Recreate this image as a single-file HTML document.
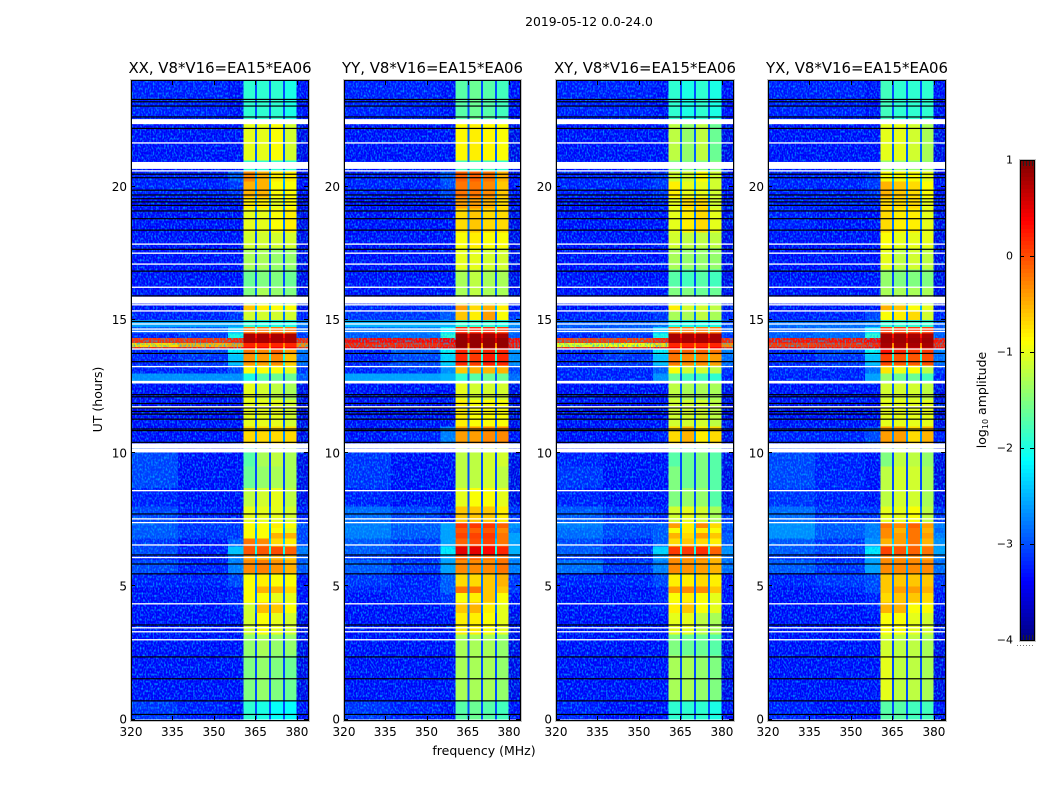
<!DOCTYPE html>
<html>
<head>
<meta charset="utf-8">
<title>2019-05-12 spectrogram</title>
<style>
html,body{margin:0;padding:0;background:#fff;}
svg{display:block;}
text{font-family:"DejaVu Sans","Liberation Sans",sans-serif;fill:#000;}
</style>
</head>
<body>
<svg id="chart" xmlns="http://www.w3.org/2000/svg" width="1050" height="800" viewBox="0 0 1050 800">
<defs>
<filter id="speckle" x="0" y="0" width="100%" height="100%" color-interpolation-filters="sRGB">
<feTurbulence type="fractalNoise" baseFrequency="0.62 0.42" numOctaves="1" seed="3"/>
<feColorMatrix type="matrix" values="0 0 0 0 0  0 0 0 0 0.72  0 0 0 0 1  2.2 0 0 0 -0.95"/>
</filter>
</defs>
<rect width="1050" height="800" fill="#fff"/>
<text x="589" y="26" font-size="12.4" text-anchor="middle">2019-05-12 0.0-24.0</text>
<text x="484" y="755" font-size="12.5" text-anchor="middle">frequency (MHz)</text>
<text transform="translate(102,399.5) rotate(-90)" font-size="12.5" text-anchor="middle">UT (hours)</text>
<text transform="translate(986,400) rotate(-90)" font-size="12.5" text-anchor="middle">log<tspan font-size="8" dy="2">10</tspan><tspan dy="-2"> amplitude</tspan></text>
<g id="panels"></g>
<g id="colorbar"></g>
</svg>
<script>
// Time-bin edges (hours) shared by all panels
const hourEdges = [0,.7,2.4,3.2,4,4.4,4.75,5,5.5,6,6.2,6.5,6.8,7,7.2,7.4,8,8.7,9.5,10.3,11,12,12.7,13,13.3,13.7,13.9,14,14.15,14.33,14.5,14.75,15,15.35,15.6,16.2,16.9,17.7,18.3,19.2,19.6,20.2,20.6,21,22.4,24];
// Frequency bins (MHz) and which row value fills each: 0-2 background, 3-6 sub-bands, 7 right background, g notches
const freqEdges = [320,337,355,360.6,364.85,365.55,369.9,370.6,374.95,375.65,379.9,384];
const freqSource = [0,1,2,3,'g',4,'g',5,'g',6,7];
// Log10 amplitude in the notches between sub-bands, per time bin
const gapLevels = [-3,-3,-3,-3,-2.8,-2.8,-2.8,-2.8,-2.6,-2.4,-2,-2.4,-2.6,-2.6,-2.5,-2.8,-3,-3,-3,-2.7,-2.9,-2.9,-2.9,-2.6,-2,-1.8,-.5,-.3,.6,.3,-1.5,-2.5,-2.8,-2.5,-2.9,-3,-3,-3,-2.8,-2.7,-2.6,-2.5,-2.9,-2.9,-3];
// Each row: [left bg, mid bg, edge bg, band1, band2, band3, band4, right bg]
const xxRows = [
[-3.2,-3.3,-3.4,-1.9,-2,-2.1,-2.1,-3.4],
[-3.4,-3.4,-3.4,-1.5,-1.4,-1.5,-1.6,-3.5],
[-3.4,-3.4,-3.4,-1.4,-1.3,-1.4,-1.4,-3.5],
[-3.4,-3.4,-3.4,-1.1,-.9,-1,-1.1,-3.5],
[-3.4,-3.4,-3.3,-1.1,-.55,-.6,-.9,-3.4],
[-3.4,-3.4,-3.3,-.9,-.9,-1,-1,-3.4],
[-3.4,-3.4,-3.3,-.9,-.5,-.5,-.7,-3.4],
[-3.3,-3.3,-3.1,-.9,-.8,-.9,-.9,-3.4],
[-3.1,-3.3,-2.8,-.3,-.25,-.35,-.5,-3],
[-3.3,-3.4,-2.8,-.4,-.5,-.5,-.6,-3],
[-3.1,-3.3,-2.4,-.05,-.05,0,-.1,-2.8],
[-3.2,-3.4,-3,-.2,-.3,-.7,-.8,-3.1],
[-3,-3.2,-3.2,-.9,-.9,-.5,-.5,-3.1],
[-3,-3.2,-3.2,-.9,-.9,-.9,-1,-3.1],
[-3,-3.2,-3.2,-.9,-.9,-.8,-.9,-3.1],
[-3.1,-3.3,-3.4,-1,-1,-1,-1.1,-3.3],
[-3.3,-3.4,-3.4,-1.2,-1.1,-1,-1.2,-3.5],
[-3.1,-3.4,-3.4,-1.6,-1.4,-1.3,-1.3,-3.5],
[-3.1,-3.4,-3.4,-1.7,-1.3,-1.2,-1.3,-3.5],
[-3.4,-3.4,-3.4,-.7,-.7,-.7,-.7,-3.5],
[-3.4,-3.4,-3.4,-1,-1,-1,-1.1,-3.5],
[-3.4,-3.4,-3.4,-1,-1.1,-1.2,-1.3,-3.5],
[-2.7,-2.7,-2.7,-2,-1.7,-1.6,-1.6,-3],
[-3.3,-3.3,-3.1,-.9,-.9,-.9,-1,-3.2],
[-3.3,-3.2,-2.4,-.35,-.4,-.3,-.6,-2.9],
[-3.3,-3.1,-2.1,-.2,-.3,-.1,-.4,-2.8],
[.2,.25,.3,.4,.4,.4,.4,.2],
[-.7,-.5,-.4,.2,.2,.2,.2,-.3],
[.15,.15,.2,.8,.8,.8,.8,.2],
[-3.3,-3.2,-2,.8,.8,.8,.8,-3.2],
[-3,-3,-2.4,-.2,-.2,-.2,-.2,-3],
[-2.6,-2.6,-2.6,-1.9,-2,-2,-2,-2.8],
[-3.3,-3.3,-3.2,-1.1,-1.1,-1.1,-1.1,-3.3],
[-3.4,-3.4,-3.4,-.6,-.8,-.9,-.9,-3.5],
[-3.4,-3.4,-3.4,-1.5,-1.3,-1.4,-1.5,-3.5],
[-3.4,-3.4,-3.4,-1.6,-1.5,-1.5,-1.6,-3.5],
[-3.4,-3.4,-3.4,-1.3,-1.3,-1.4,-1.4,-3.5],
[-3.4,-3.4,-3.4,-1.1,-1.1,-1.1,-1.1,-3.5],
[-3.4,-3.4,-3.4,-1,-1,-.9,-.8,-3.5],
[-3.4,-3.4,-3.4,-.8,-.8,-1,-.9,-3.5],
[-3.3,-3.3,-3.2,-.5,-.5,-.9,-.9,-3.4],
[-3.3,-3.3,-3,-.3,-.5,-.8,-.8,-3.4],
[-3.4,-3.4,-3.4,-1.9,-1.9,-1.9,-1.9,-3.5],
[-3.4,-3.4,-3.4,-1,-1,-.9,-1.1,-3.5],
[-3.3,-3.3,-3.4,-1.9,-1.9,-1.9,-2,-3.4]
];
const yyRows = [
[-3.2,-3.3,-3.4,-1.7,-1.6,-1.7,-1.8,-3.4],
[-3.4,-3.4,-3.4,-1.3,-1.3,-1.3,-1.4,-3.5],
[-3.4,-3.4,-3.4,-1.3,-1.3,-1.3,-1.4,-3.5],
[-3.4,-3.4,-3.4,-.8,-.8,-.9,-1,-3.5],
[-3.4,-3.4,-3.3,-.6,-.5,-.8,-1,-3.4],
[-3.4,-3.3,-3.2,-.9,-.8,-.6,-.9,-3.4],
[-3.3,-3.3,-3,-.2,-.2,-.6,-.6,-3.2],
[-3.2,-3.3,-3,-.7,-.7,-.6,-.5,-3.2],
[-3,-3.2,-2.6,-.3,-.3,-.3,-.2,-2.8],
[-3.2,-3.3,-2.6,-.1,-.1,-.2,-.2,-2.7],
[-3,-3.1,-2.2,.5,.5,.35,.2,-2.5],
[-3,-3.2,-2.6,-.1,0,.05,-.2,-2.6],
[-2.8,-3,-2.6,.05,.05,.1,-.2,-2.6],
[-2.8,-3,-2.6,-.05,-.1,-.05,-.3,-2.8],
[-2.8,-3,-2.6,.1,.1,.1,-.1,-2.7],
[-2.9,-3.1,-3.3,-.6,-.6,-.6,-.8,-3.2],
[-3.3,-3.4,-3.4,-1,-.9,-.9,-1,-3.5],
[-3.2,-3.4,-3.4,-1.2,-1.2,-1.1,-1.2,-3.5],
[-3.2,-3.4,-3.4,-1.2,-1.2,-1.1,-1.1,-3.5],
[-3.4,-3.3,-2.8,-.4,-.4,-.3,-.3,-3.4],
[-3.4,-3.4,-3.4,-.8,-.9,-.9,-.9,-3.5],
[-3.4,-3.4,-3.4,-1,-1.1,-1.1,-1.1,-3.5],
[-2.6,-2.6,-2.5,-1.9,-1.7,-1.6,-1.6,-2.9],
[-3.3,-3.2,-2.7,-.6,-.5,-.5,-.5,-3.1],
[-3.3,-3.1,-2.3,.2,.1,.25,.2,-2.7],
[-3.3,-3,-2.1,.2,.1,.2,.2,-2.7],
[.4,.4,.45,.8,.8,.8,.8,.4],
[.2,.2,.25,.9,.9,.9,.9,.25],
[.35,.35,.4,.9,.9,.9,.9,.35],
[-3,-2.9,-1.9,.9,.9,.85,.8,-3],
[-2.9,-2.8,-2.2,.2,.2,.2,.1,-2.9],
[-2.5,-2.5,-2.5,-1.9,-1.9,-1.9,-2,-2.7],
[-3.2,-3.2,-3,-.6,-.8,-.4,-.9,-3.2],
[-3.3,-3.3,-3.2,-.4,-.7,-.5,-.8,-3.4],
[-3.4,-3.4,-3.4,-1.3,-1.2,-1.3,-1.3,-3.5],
[-3.4,-3.4,-3.4,-1.3,-1.2,-1.3,-1.3,-3.5],
[-3.4,-3.4,-3.4,-1,-1,-1.1,-1.1,-3.5],
[-3.4,-3.4,-3.4,-.9,-.8,-.9,-.9,-3.5],
[-3.4,-3.4,-3.4,-.7,-.6,-.7,-.7,-3.5],
[-3.4,-3.4,-3.3,-.4,-.4,-.5,-.7,-3.4],
[-3.3,-3.3,-3.1,-.2,-.2,-.3,-.6,-3.4],
[-3.3,-3.3,-3,-.1,-.1,-.2,-.5,-3.4],
[-3.4,-3.4,-3.4,-1.8,-1.8,-1.8,-1.9,-3.5],
[-3.4,-3.4,-3.4,-.85,-.8,-.85,-.9,-3.5],
[-3.3,-3.3,-3.4,-1.7,-1.6,-1.7,-1.8,-3.4]
];
const xyRows = [
[-3.3,-3.4,-3.4,-1.9,-1.9,-1.9,-2,-3.4],
[-3.4,-3.4,-3.4,-1.3,-1.3,-1.4,-1.5,-3.5],
[-3.4,-3.4,-3.4,-1.5,-1.6,-1.6,-1.7,-3.5],
[-3.4,-3.4,-3.4,-1,-1,-1.2,-1.3,-3.5],
[-3.4,-3.4,-3.3,-.8,-.6,-.9,-1,-3.4],
[-3.4,-3.4,-3.3,-.9,-.8,-.9,-1,-3.4],
[-3.4,-3.4,-3.3,-.4,-.3,-.3,-.6,-3.4],
[-3.3,-3.3,-3.1,-.8,-.8,-.7,-.8,-3.4],
[-2.9,-3.2,-2.8,-.3,-.35,-.4,-.5,-2.9],
[-3.2,-3.3,-2.7,-.3,-.3,-.3,-.5,-2.9],
[-3,-3.2,-2.3,.1,.1,.15,-.1,-2.7],
[-3.1,-3.3,-3,-.7,-.6,-.7,-.8,-3],
[-2.9,-3.1,-3,-.5,-.7,-.4,-.6,-3],
[-2.9,-3.1,-3,-.9,-.8,-.8,-.9,-3.1],
[-2.8,-3.1,-3,-.4,-.8,-.3,-.7,-3],
[-3,-3.2,-3.3,-1.1,-1,-1.1,-1.3,-3.2],
[-3.3,-3.4,-3.4,-1.5,-1.4,-1.4,-1.7,-3.5],
[-3.2,-3.4,-3.4,-1.5,-1.6,-1.5,-1.7,-3.5],
[-3.3,-3.4,-3.4,-1.7,-1.6,-1.5,-1.7,-3.5],
[-3.4,-3.4,-3.3,-.7,-.5,-.8,-.7,-3.5],
[-3.4,-3.4,-3.4,-1.1,-1.1,-1.1,-1.2,-3.5],
[-3.4,-3.4,-3.4,-1.2,-1.3,-1.3,-1.3,-3.5],
[-3.3,-3.3,-2.7,-1.6,-1.8,-1.8,-1.9,-3.3],
[-3.3,-3.3,-3,-.9,-1.1,-1.1,-1.2,-3.2],
[-3.3,-3.2,-2.4,-.2,-.3,-.3,-.4,-2.9],
[-3.3,-3.1,-2.1,-.1,-.1,-.1,-.2,-2.8],
[.2,.2,.3,.4,.4,.4,.4,.2],
[-1,-.9,-.7,.2,.2,.2,.2,-.3],
[.1,.1,.2,.8,.8,.8,.8,.2],
[-3.3,-3.2,-2,.8,.8,.8,.8,-3.2],
[-3.1,-3,-2.4,-.2,-.2,-.2,-.2,-3],
[-3,-3,-2.9,-2,-2,-2,-2,-3.1],
[-3.3,-3.3,-3.2,-1.3,-1.3,-1.2,-1.3,-3.3],
[-3.4,-3.4,-3.4,-.8,-1.1,-1.1,-1.2,-3.5],
[-3.4,-3.4,-3.4,-1.5,-1.5,-1.6,-1.6,-3.5],
[-3.4,-3.4,-3.4,-1.7,-1.8,-1.7,-1.8,-3.5],
[-3.4,-3.4,-3.4,-1.3,-1.4,-1.4,-1.4,-3.5],
[-3.4,-3.4,-3.4,-1.1,-1.2,-1.2,-1.2,-3.5],
[-3.4,-3.4,-3.4,-1,-.8,-.7,-1,-3.5],
[-3.4,-3.4,-3.3,-1,-.7,-.7,-1.1,-3.5],
[-3.3,-3.3,-3.2,-.8,-1,-1,-1.1,-3.4],
[-3.3,-3.3,-3.2,-1.1,-1.1,-.9,-1.1,-3.4],
[-3.4,-3.4,-3.4,-1.5,-1.5,-1.5,-1.5,-3.5],
[-3.4,-3.4,-3.4,-1.2,-1.4,-1.2,-1.6,-3.5],
[-3.3,-3.3,-3.4,-1.9,-2,-1.9,-2,-3.4]
];
const yxRows = [
[-3.3,-3.4,-3.4,-1.7,-1.7,-1.8,-1.8,-3.4],
[-3.4,-3.4,-3.4,-1,-1.2,-1.2,-1.3,-3.5],
[-3.4,-3.4,-3.4,-1.1,-1.2,-1.2,-1.3,-3.5],
[-3.4,-3.4,-3.4,-.9,-.9,-1,-1.1,-3.5],
[-3.4,-3.4,-3.3,-.5,-.5,-.9,-.9,-3.4],
[-3.4,-3.4,-3.3,-.7,-.6,-.6,-.7,-3.4],
[-3.4,-3.3,-3.1,-.6,-.4,-.4,-.5,-3.3],
[-3.3,-3.2,-3.1,-.6,-.6,-.6,-.6,-3.2],
[-3,-3.2,-2.6,-.3,-.3,-.3,-.3,-2.9],
[-3.2,-3.3,-2.6,-.3,-.3,-.3,-.4,-2.8],
[-3,-3.1,-2.2,.05,-.05,-.1,-.2,-2.6],
[-3,-3.2,-2.7,-.5,-.4,-.2,-.5,-2.7],
[-2.7,-3,-2.8,-.3,-.4,-.2,-.4,-2.8],
[-2.7,-3,-2.8,-.3,-.5,-.2,-.5,-2.9],
[-2.7,-3,-2.8,-.2,-.3,-.1,-.4,-2.8],
[-2.9,-3.2,-3.2,-1,-1,-.9,-1.2,-3.2],
[-3.2,-3.3,-3.4,-1.2,-1.1,-1.1,-1.3,-3.5],
[-3.1,-3.3,-3.4,-1.2,-1.1,-1.1,-1.3,-3.5],
[-3.1,-3.3,-3.4,-1.5,-1.2,-1.2,-1.4,-3.5],
[-3.3,-3.3,-3.1,-.4,-.4,-.7,-.5,-3.3],
[-3.4,-3.4,-3.4,-1,-1,-1,-1,-3.5],
[-3.4,-3.4,-3.4,-1.1,-1.1,-1.1,-1.2,-3.5],
[-3.3,-3.3,-2.6,-1.4,-1.6,-1.6,-1.8,-3.3],
[-3.3,-3.3,-2.9,-.75,-.95,-.9,-1.2,-3.2],
[-3.3,-3.2,-2.4,.05,-.05,-.05,0,-2.9],
[-3.3,-3.1,-2.1,.3,.2,.1,.1,-2.8],
[.35,.35,.4,.7,.7,.7,.7,.35],
[.1,.15,.2,.8,.8,.8,.8,.2],
[.3,.3,.35,.85,.85,.85,.85,.3],
[-3,-2.9,-1.9,.85,.85,.8,.8,-3],
[-3,-2.9,-2.3,.1,.1,.1,.1,-3],
[-2.9,-2.9,-2.8,-1.9,-1.9,-1.9,-1.9,-3],
[-3.3,-3.3,-3.1,-.9,-.8,-.7,-1.1,-3.3],
[-3.4,-3.4,-3.4,-.5,-.6,-.9,-1,-3.5],
[-3.4,-3.4,-3.4,-1.3,-1.3,-1.3,-1.3,-3.5],
[-3.4,-3.4,-3.4,-1.4,-1.5,-1.5,-1.5,-3.5],
[-3.4,-3.4,-3.4,-1,-1.2,-1.1,-1.2,-3.5],
[-3.4,-3.4,-3.4,-.9,-1,-1,-1,-3.5],
[-3.3,-3.4,-3.4,-.7,-.8,-.8,-1,-3.5],
[-3.3,-3.3,-3.3,-.7,-.7,-.7,-1,-3.4],
[-3.3,-3.3,-3.2,-.5,-.6,-.7,-.9,-3.4],
[-3.3,-3.3,-3.2,-.9,-.9,-.9,-1,-3.4],
[-3.4,-3.4,-3.4,-1.4,-1.4,-1.4,-1.4,-3.5],
[-3.4,-3.4,-3.4,-1,-1,-1.1,-1.3,-3.5],
[-3.3,-3.3,-3.4,-1.8,-1.9,-1.9,-1.9,-3.4]
];
// Panel titles
const panelTitles = ["XX, V8*V16=EA15*EA06","YY, V8*V16=EA15*EA06","XY, V8*V16=EA15*EA06","YX, V8*V16=EA15*EA06"];
const panelMatrices = [xxRows,yyRows,xyRows,yxRows];
// Flagged time ranges (hours) rendered white
const whiteRanges = [[22.36,22.55],[21.63,21.68],[20.68,20.94],[20.58,20.63],[17.83,17.88],[17.49,17.54],[17.08,17.13],[16.21,16.26],[15.62,15.88],[15.55,15.6],[15.32,15.37],[14.83,14.88],[14.64,14.69],[14.55,14.6],[13.89,13.94],[13.23,13.28],[12.62,12.72],[11.72,11.77],[10.19,10.37],[10.03,10.18],[8.57,8.62],[7.51,7.56],[7.37,7.42],[6.53,6.58],[6.06,6.11],[4.32,4.37],[3.42,3.47],[3.27,3.32],[2.97,3.02]];
// Times (hours) of dark dropout lines
const darkLines = [23.29,23.2,23.04,22.63,22.2,20.85,20.48,20.35,19.88,19.7,19.56,19.44,19.31,19.1,18.81,18.38,17.66,16.84,15.91,14.95,13.75,13.44,12.2,12.12,11.87,11.7,11.57,11.47,11.28,10.91,10.85,10.41,7.72,6.18,5.84,5.47,3.55,2.35,1.53,.7,.19];
// Tick labels
const freqTicks = [320,335,350,365,380];
const hourTicks = [0,5,10,15,20];
const colorbarTicks = [-4,-3,-2,-1,0,1];

const SVGNS = "http://www.w3.org/2000/svg";
const panelLefts = [131,344,556,768];
const panelWidths = [177,176,177,177];
const plotTop = 80.5, plotBottom = 719.5;
const freqMin = 320, freqMax = 384, hourMin = 0, hourMax = 24;
const levelMin = -4, levelMax = 1;

function xScale(p, f){ return panelLefts[p] + (f - freqMin) / (freqMax - freqMin) * panelWidths[p]; }
function yScale(h){ return plotBottom - (h - hourMin) / (hourMax - hourMin) * (plotBottom - plotTop); }
function jet(v){
  const t = Math.max(0, Math.min(1, (v - levelMin) / (levelMax - levelMin)));
  const ramp = function(x){ return Math.max(0, Math.min(1, 1.5 - Math.abs(4 * x - 2))); };
  const r = ramp(t - .25), g = ramp(t), b = ramp(t + .25);
  return "rgb(" + Math.round(r*255) + "," + Math.round(g*255) + "," + Math.round(b*255) + ")";
}
function make(tag, attrs, parent){
  const el = document.createElementNS(SVGNS, tag);
  for (const k in attrs) el.setAttribute(k, attrs[k]);
  parent.appendChild(el);
  return el;
}

const panelsGroup = document.getElementById("panels");
panelMatrices.forEach(function(rows, p){
  const left = panelLefts[p], width = panelWidths[p];
  const g = make("g", {}, panelsGroup);
  
  

  rows.forEach(function(row, r){
    const y0 = yScale(hourEdges[r + 1]), y1 = yScale(hourEdges[r]);
    freqSource.forEach(function(src, c){
      const x0 = xScale(p, freqEdges[c]), x1 = xScale(p, freqEdges[c + 1]);
      const v = src === 'g' ? gapLevels[r] : row[src];
      const cell = make("rect", {x:x0, y:y0, width:x1 - x0, height:y1 - y0, fill:jet(v), "shape-rendering":"crispEdges"}, g);
      
      
    });
  });

  // Decorative channel-noise texture over the off-band background
  const noiseA = make("rect", {x:xScale(p,freqMin), y:plotTop, width:xScale(p,freqEdges[3]) - xScale(p,freqMin), height:plotBottom - plotTop, filter:"url(#speckle)"}, g);
  
  
  const noiseB = make("rect", {x:xScale(p,freqEdges[10]), y:plotTop, width:xScale(p,freqMax) - xScale(p,freqEdges[10]), height:plotBottom - plotTop, filter:"url(#speckle)"}, g);
  
  

  darkLines.forEach(function(h){
    const line = make("rect", {x:left, y:yScale(h) - .6, width:width, height:1.2, fill:"#000"}, g);
    
    
  });
  whiteRanges.forEach(function(rg){
    const band = make("rect", {x:left, y:yScale(rg[1]), width:width, height:yScale(rg[0]) - yScale(rg[1]), fill:"#fff"}, g);
    
    
  });

  const halo = make("rect", {x:left - .5, y:79.5, width:width + 2, height:642, fill:"none", stroke:"#c4c4c4", "stroke-width":1}, g);
  
  
  const frame = make("rect", {x:left + .5, y:80.5, width:width, height:640, fill:"none", stroke:"#000", "stroke-width":1}, g);
  
  

  freqTicks.forEach(function(f){
    const x = Math.round(xScale(p, f)) + .5;
    const t1 = make("line", {x1:x, x2:x, y1:720, y2:716, stroke:"#000"}, g);
    
    
    const t2 = make("line", {x1:x, x2:x, y1:81, y2:85, stroke:"#000"}, g);
    
    
    const label = make("text", {x:xScale(p, f), y:736, "font-size":12, "text-anchor":"middle"}, g);
    
    
    label.textContent = f;
  });
  hourTicks.forEach(function(h){
    const y = Math.round(yScale(h)) - .5;
    const t1 = make("line", {x1:left, x2:left + 4, y1:y, y2:y, stroke:"#000"}, g);
    
    
    const t2 = make("line", {x1:left + width, x2:left + width - 4, y1:y, y2:y, stroke:"#000"}, g);
    
    
    const label = make("text", {x:left - 4, y:yScale(h) + 4, "font-size":12, "text-anchor":"end"}, g);
    
    
    label.textContent = h;
  });
  const title = make("text", {x:left + width / 2 + .5, y:73, "font-size":14.9, "text-anchor":"middle"}, g);
  
  
  title.textContent = panelTitles[p];
});

// Colorbar
const cbGroup = document.getElementById("colorbar");
const cbLeft = 1020, cbRight = 1034, cbTop = 160.5, cbBottom = 640.5;
function cbScale(v){ return cbBottom - (v - levelMin) / (levelMax - levelMin) * (cbBottom - cbTop); }
for (let i = 0; i < 120; i++){
  const v0 = levelMin + i * (levelMax - levelMin) / 120;
  const v1 = levelMin + (i + 1) * (levelMax - levelMin) / 120;
  const seg = make("rect", {x:cbLeft, y:cbScale(v1), width:cbRight - cbLeft, height:cbScale(v0) - cbScale(v1) + .5, fill:jet((v0 + v1) / 2), "shape-rendering":"crispEdges"}, cbGroup);
  
  
}
const cbHalo = make("rect", {x:cbLeft - .5, y:cbTop - 1, width:cbRight - cbLeft + 2, height:cbBottom - cbTop + 2, fill:"none", stroke:"#c4c4c4", "stroke-width":1}, cbGroup);


const cbFrame = make("rect", {x:cbLeft + .5, y:cbTop, width:cbRight - cbLeft, height:cbBottom - cbTop, fill:"none", stroke:"#000", "stroke-width":1}, cbGroup);


colorbarTicks.forEach(function(v){
  const y = Math.round(cbScale(v)) - .5;
  const a = make("line", {x1:cbLeft, x2:cbLeft + 4, y1:y, y2:y, stroke:"#000"}, cbGroup);
  
  
  const b = make("line", {x1:cbRight, x2:cbRight - 4, y1:y, y2:y, stroke:"#000"}, cbGroup);
  
  
  const label = make("text", {x:1013, y:cbScale(v) + 3, "font-size":11, "text-anchor":"end"}, cbGroup);
  
  
  label.textContent = v < 0 ? "\u2212" + Math.abs(v) : String(v);
});
[1023,1026,1029,1032].forEach(function(x){
  const top = make("line", {x1:x + .5, x2:x + .5, y1:161, y2:166, stroke:"#222"}, cbGroup);
  
  
  const bottom = make("line", {x1:x + .5, x2:x + .5, y1:635, y2:640, stroke:"#222"}, cbGroup);
  
  
});
const dots = make("line", {x1:1017, x2:1035, y1:645.5, y2:645.5, stroke:"#777", "stroke-width":1, "stroke-dasharray":"1 2"}, cbGroup);


</script>
</body>
</html>
